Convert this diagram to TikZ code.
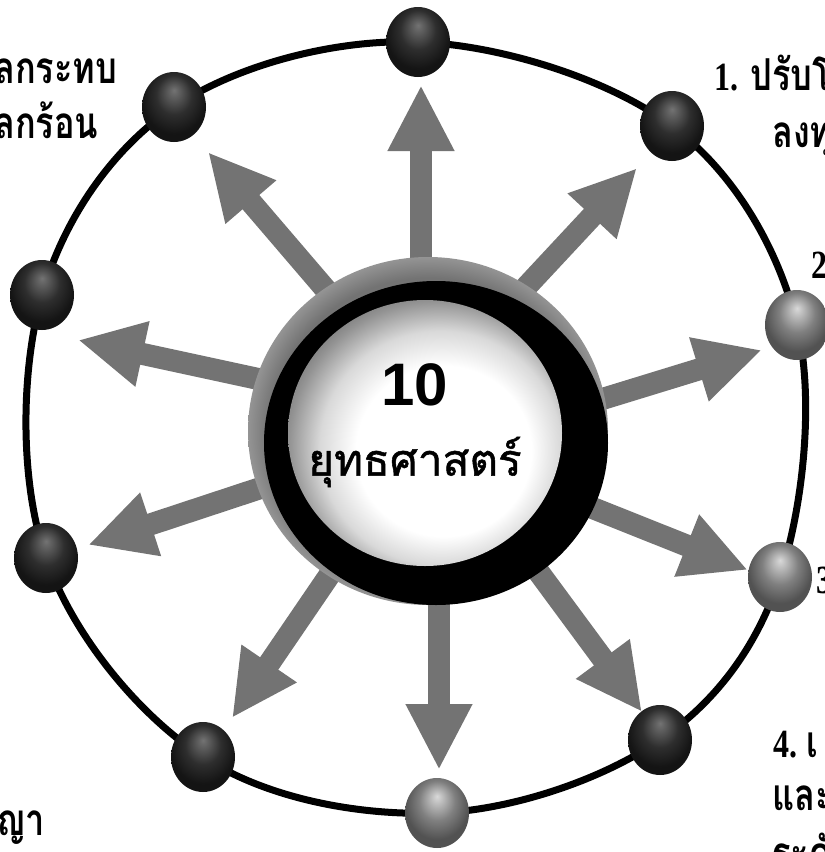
\documentclass[tikz,border=0pt]{standalone}
\usepackage{fontspec}
\usetikzlibrary{arrows.meta,shapes.geometric}
\newfontfamily\thaifont[Script=Thai,FakeBold=1.2]{Loma}
\newfontfamily\thaiside[Script=Thai,FakeStretch=0.78]{Loma}
\newfontfamily\numfont[FakeStretch=0.8]{Liberation Serif}
\newfontfamily\digitfont{Liberation Sans}
\pgfdeclareradialshading{rimshade}{\pgfpoint{5bp}{-5bp}}{color(0bp)=(white); color(16bp)=(white); color(22bp)=(black!15); color(27bp)=(black!42); color(30bp)=(black!55); color(50bp)=(black!55)}
\pgfdeclareradialshading{darkballshade}{\pgfpoint{0bp}{12bp}}{color(0bp)=(black!55); color(14bp)=(black!82); color(25bp)=(black!92); color(50bp)=(black!92)}
\pgfdeclareradialshading{lightballshade}{\pgfpoint{0bp}{12bp}}{color(0bp)=(black!15); color(14bp)=(black!50); color(25bp)=(black!68); color(50bp)=(black!68)}
\pgfdeclareradialshading{haloshade}{\pgfpoint{0bp}{0bp}}{color(0bp)=(black!55); color(22bp)=(black!55); color(25bp)=(black!42); color(50bp)=(black!42)}
\begin{document}
\begin{tikzpicture}[x=1pt,y=-1pt,
  ball/.style={ellipse, minimum width=64pt, minimum height=70pt, inner sep=0pt, shade, shading=darkballshade},
  lightball/.style={ball, shading=lightballshade},
  ray/.style={line width=22pt, draw=black!55, -{Triangle[width=62pt,length=66pt]}},
  side/.style={font=\thaiside\bfseries\fontsize{44}{48}\selectfont, inner sep=0pt, anchor=base west},
  num/.style={font=\numfont\bfseries\fontsize{40}{44}\selectfont, inner sep=0pt, anchor=base west}
]
\useasboundingbox (0,0) rectangle (825,852);
% ring
\draw[line width=7pt] plot[smooth cycle, tension=0.6] coordinates {(418,42) (672,126) (797,325) (780,577) (660,740) (437,813) (203,757) (46,558) (42,295) (174,107)};
% arrows
\coordinate (s1) at (421,300); \coordinate (t1) at (421,85);
\coordinate (s2) at (500,315); \coordinate (t2) at (637,168);
\coordinate (s3) at (345,312); \coordinate (t3) at (208,152);
\coordinate (s4) at (560,412); \coordinate (t4) at (762,350);
\coordinate (s5) at (560,495); \coordinate (t5) at (748,570);
\coordinate (s6) at (515,540); \coordinate (t6) at (642,712);
\coordinate (s7) at (439,560); \coordinate (t7) at (439,770);
\coordinate (s8) at (350,545); \coordinate (t8) at (232,718);
\coordinate (s9) at (300,475); \coordinate (t9) at (88,545);
\coordinate (s10) at (300,388); \coordinate (t10) at (78,340);
\foreach \i in {1,...,10} {\draw[ray] (s\i) -- (t\i);}
% centre
\shade[shading=haloshade] (428,431) ellipse (180pt and 174pt);
\fill[black] (436,443) ellipse (172pt and 162pt);
\shade[shading=rimshade] (425,433) ellipse (137pt and 133pt);
\node[inner sep=0pt] (ten) at (415,385) {\digitfont\bfseries\fontsize{60}{60}\selectfont 10};
\node[inner sep=0pt] (title) at (415,462) {\thaifont\fontsize{44}{50}\selectfont ยุทธศาสตร์};
% balls
\node[ball] (b1) at (418,42) {};
\node[ball] (b2) at (672,126) {};
\node[lightball] (b3) at (797,325) {};
\node[lightball] (b4) at (780,577) {};
\node[ball] (b5) at (660,740) {};
\node[lightball] (b6) at (437,813) {};
\node[ball] (b7) at (203,757) {};
\node[ball] (b8) at (46,558) {};
\node[ball] (b9) at (42,295) {};
\node[ball] (b10) at (174,107) {};
% side texts
\node[side] (l1) at (-6,83) {ลกระทบ};
\node[side] (l2) at (-6,138) {ลกร้อน};
\node[num] (r1n) at (714,90) {1.};
\node[side] (r1) at (750,90) {ปรับโ};
\node[side] (r2) at (772,147) {ลงทุ};
\node[num] (r3) at (811,278) {2};
\node[num] (r4) at (816,593) {3};
\node[num] (r5n) at (773,757) {4.};
\node[side] (r5) at (806,757) {เ};
\node[side] (r6) at (772,810) {และ};
\node[side] (r7) at (772,868) {ระดั};
\node[side] (l3) at (-4,835) {ญา};
\end{tikzpicture}
\end{document}
